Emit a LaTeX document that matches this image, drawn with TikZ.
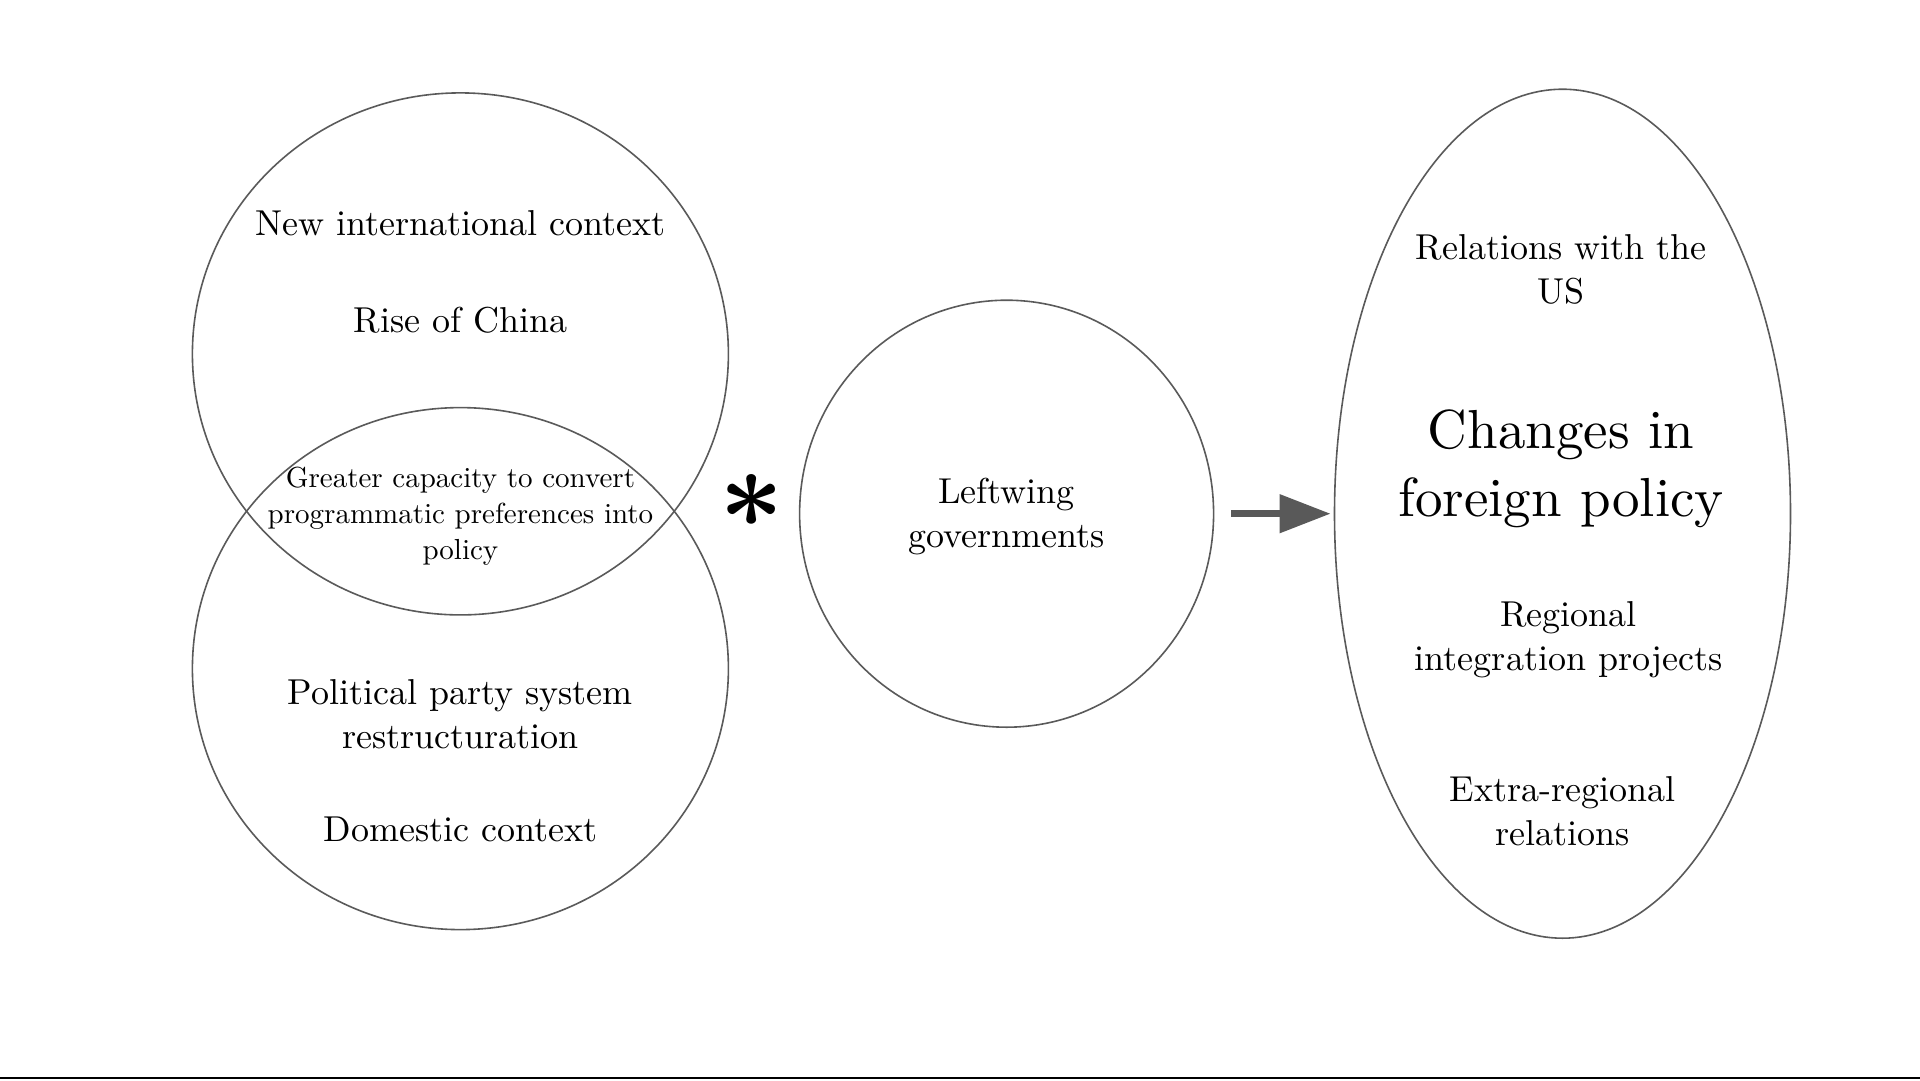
\documentclass[tikz,border=0pt]{standalone}
\usepackage{fontspec}
\setmainfont{lmroman10-regular}[Extension=.otf, BoldFont=lmroman10-bold]
\usetikzlibrary{shapes.geometric,arrows.meta}
\definecolor{ringgray}{HTML}{5A5A5A}
\definecolor{arrowgray}{HTML}{595959}
\tikzset{
  ring/.style={draw=ringgray, line width=1.6pt, ellipse, inner sep=0pt, fill=none},
  maintext/.style={align=center, inner sep=0pt, font=\fontsize{36}{44}\selectfont},
  smalltext/.style={align=center, inner sep=0pt, font=\fontsize{29}{36}\selectfont},
  bigtext/.style={align=center, inner sep=0pt, font=\fontsize{55}{68}\selectfont},
  fatarrow/.style={draw=arrowgray, line width=7.5pt, -{Triangle[length=51pt,width=37pt]}, arrowgray}
}
\begin{document}
\begin{tikzpicture}[x=1pt,y=-1pt]
\useasboundingbox (0,0) rectangle (1920,1080);
\fill[white] (0,0) rectangle (1920,1080);
% rings
\node[ring, minimum width=536pt, minimum height=522pt] (top) at (460.4,353.9) {};
\node[ring, minimum width=536pt, minimum height=522pt] (bot) at (460.4,668.6) {};
\node[ring, minimum width=414pt, minimum height=427pt] (mid) at (1006.6,513.7) {};
\node[ring, minimum width=456pt, minimum height=849pt] (right) at (1562.5,513.7) {};
% texts left
\node[maintext] (intl) at (460.4,223.5) {New international context};
\node[maintext] (china) at (460.4,320.5) {Rise of China};
\node[smalltext] (lens) at (460.4,516.3) {Greater capacity to convert\\programmatic preferences into\\policy};
\node[maintext] (party) at (460.4,714) {Political party system\\restructuration};
\node[maintext] (dom) at (460.4,829.8) {Domestic context};
% asterisk
\node[inner sep=0pt, font=\fontsize{112}{112}\selectfont\bfseries] (star) at (751.5,516) {*};
% middle
\node[maintext] (left) at (1006.6,516.5) {Leftwing\\governments};
% right
\node[maintext] (us) at (1561,269) {Relations with the\\US};
\node[bigtext] (changes) at (1561,469) {Changes in\\foreign policy};
\node[maintext] (regional) at (1568.6,640) {Regional\\integration projects};
\node[maintext] (extra) at (1562.5,811.5) {Extra-regional\\relations};
% arrow
\draw[fatarrow, shorten <=17pt, shorten >=3pt] (mid.east) -- (right.west);
% bottom rule
\coordinate (bl) at (0,1078);
\coordinate (br) at (1920,1078);
\draw[black, line width=2pt] (bl) -- (br);
\end{tikzpicture}
\end{document}
